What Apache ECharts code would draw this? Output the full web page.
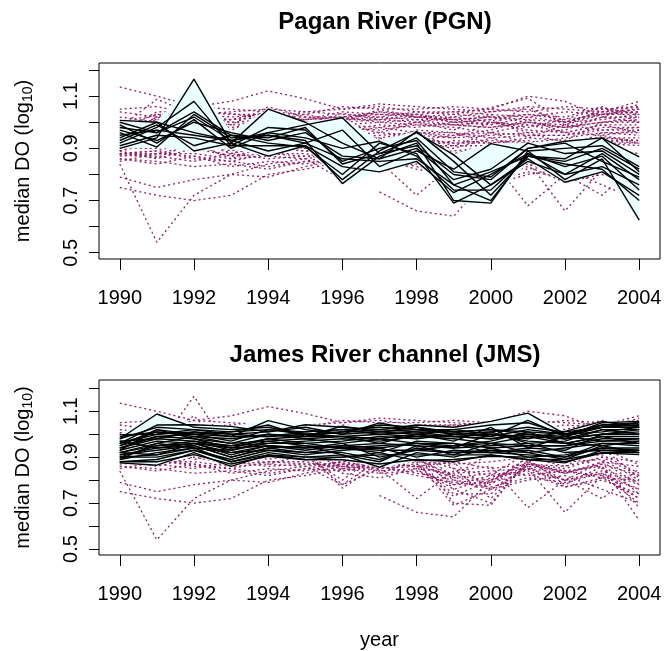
<!DOCTYPE html>
<html>
<head>
<meta charset="utf-8">
<script src="https://cdn.jsdelivr.net/npm/echarts@6/dist/echarts.min.js"></script>
<style>
html,body{margin:0;padding:0;background:#fff}
#main{width:665px;height:651px}
</style>
</head>
<body>
<div id="main"></div>
<script>
// years on the x axis
const years = [1990,1991,1992,1993,1994,1995,1996,1997,1998,1999,2000,2001,2002,2003,2004];
const xTicks = [1990,1992,1994,1996,1998,2000,2002,2004];
const yTicks = [0.5,0.6,0.7,0.8,0.9,1.0,1.1,1.2];
const yLabels = [0.5,0.7,0.9,1.1];

// Pagan River stations (PGN)
const pgn = [
  [1.007,1.000,0.960,0.930,0.960,0.990,1.017,0.880,0.940,0.810,0.790,0.900,0.927,0.940,0.867],
  [0.900,0.940,1.165,0.920,1.050,1.000,0.920,0.860,0.965,0.850,0.720,0.870,0.850,0.900,0.820],
  [0.920,0.980,1.080,0.910,0.980,0.970,0.850,0.900,0.930,0.760,0.700,0.880,0.800,0.880,0.780],
  [0.960,0.905,1.030,0.940,0.950,0.930,0.765,0.870,0.920,0.700,0.690,0.890,0.780,0.860,0.625],
  [0.980,0.960,1.040,0.950,0.920,0.905,0.800,0.920,0.880,0.690,0.760,0.860,0.770,0.810,0.720],
  [0.940,1.000,0.890,0.920,0.870,0.910,0.830,0.810,0.850,0.730,0.800,0.880,0.830,0.870,0.740],
  [0.970,0.930,1.000,0.960,0.930,0.960,0.870,0.860,0.900,0.780,0.820,0.920,0.880,0.890,0.800],
  [0.950,0.970,0.950,0.930,0.950,0.920,0.970,0.830,0.890,0.820,0.918,0.890,0.900,0.910,0.830],
  [0.910,0.950,0.940,0.910,0.910,0.910,0.780,0.890,0.960,0.875,0.760,0.850,0.800,0.830,0.760],
  [0.990,0.920,1.010,0.900,0.960,0.940,0.900,0.927,0.870,0.740,0.740,0.870,0.860,0.940,0.810],
  [0.930,0.990,0.910,0.950,0.940,0.980,0.840,0.880,0.910,0.800,0.780,0.900,0.920,0.850,0.790],
  [1.000,0.960,1.020,0.930,0.890,0.920,0.860,0.850,0.860,0.760,0.810,0.870,0.840,0.820,0.700]
];

// James River channel stations (JMS)
const jms = [
  [0.980,1.088,1.030,1.020,1.030,1.000,1.010,1.040,1.030,1.010,1.020,1.000,0.990,1.050,1.056],
  [0.960,1.040,1.041,1.034,1.010,1.041,1.030,1.020,1.040,1.030,1.056,1.092,1.000,1.040,1.050],
  [0.950,1.020,1.000,0.990,1.059,1.020,1.000,1.049,1.020,1.000,0.990,1.060,0.990,1.030,1.040],
  [0.998,1.000,1.020,1.010,1.040,0.990,1.035,1.010,1.000,1.020,1.000,0.980,1.012,1.056,1.030],
  [0.920,0.960,0.990,0.960,1.000,0.980,0.990,1.000,0.990,0.990,0.980,1.000,0.980,1.000,1.020],
  [0.940,0.990,0.980,0.940,0.980,0.960,0.970,0.990,0.980,1.000,1.010,0.960,0.970,1.020,1.000],
  [0.930,0.970,0.960,0.950,0.960,0.970,0.980,0.970,0.990,0.980,0.960,0.990,0.960,0.990,0.990],
  [0.900,0.950,0.970,0.930,0.970,0.950,0.940,0.950,0.960,0.960,0.940,0.950,0.950,0.980,0.980],
  [0.910,0.930,0.950,0.900,0.940,0.920,0.920,0.890,0.940,0.920,0.930,0.920,0.940,0.960,0.960],
  [0.890,0.920,0.940,0.880,0.920,0.900,0.910,0.856,0.920,0.900,0.940,0.900,0.910,0.940,0.940],
  [0.875,0.865,0.920,0.860,0.910,0.890,0.889,0.870,0.890,0.880,0.910,0.889,0.875,0.930,0.920],
  [0.880,0.880,0.911,0.870,0.904,0.889,0.900,0.920,0.885,0.890,0.904,0.900,0.880,0.918,0.911],
  [0.960,1.010,0.990,0.980,1.000,0.990,1.010,1.020,1.010,1.010,0.990,1.020,1.000,1.010,1.030],
  [0.940,0.980,1.010,1.000,0.990,1.000,0.990,0.960,1.000,0.970,1.030,0.940,0.990,0.970,0.980],
  [0.970,0.940,0.960,0.920,0.950,0.940,0.960,0.900,0.930,0.950,0.970,1.010,0.960,0.950,0.970],
  [0.900,0.900,0.930,0.890,0.930,0.910,0.930,0.940,0.900,0.930,0.920,0.930,0.900,0.960,0.950],
  [0.920,0.910,0.960,0.910,0.950,0.930,0.950,0.960,0.950,0.940,0.950,0.960,0.920,0.930,0.930],
  [0.950,0.990,1.000,0.970,1.020,1.010,1.020,1.030,1.020,1.020,1.040,1.050,1.000,1.040,1.040],
  [0.890,0.960,0.940,0.930,0.960,0.960,0.940,0.920,0.970,0.960,0.920,0.940,0.930,1.000,1.010],
  [0.930,1.020,0.980,0.960,0.970,0.980,0.960,0.980,0.960,0.940,1.000,0.970,0.960,0.990,0.960],
  [0.910,0.940,0.950,0.900,0.940,0.950,0.910,0.880,0.950,0.910,0.960,0.920,0.890,0.950,0.920],
  [0.980,1.030,1.020,1.000,1.010,1.030,1.000,1.010,1.030,1.000,1.010,1.030,1.010,1.030,1.050],
  [0.960,1.000,1.010,0.990,0.990,1.010,1.020,1.000,1.010,0.990,1.000,0.990,0.980,1.020,1.020],
  [0.900,0.910,0.940,0.920,0.930,0.920,0.940,0.930,0.930,0.920,0.920,0.910,0.900,0.940,0.930],
  [0.970,0.980,0.970,0.950,0.980,0.990,0.990,0.980,1.000,0.990,0.980,1.000,0.980,1.000,1.000],
  [0.920,0.950,0.960,0.940,0.950,0.940,0.950,0.940,0.960,0.950,0.960,0.950,0.950,0.970,0.970],
  [0.880,0.890,0.930,0.880,0.910,0.900,0.900,0.910,0.910,0.910,0.910,0.890,0.890,0.920,0.920],
  [0.990,1.010,1.000,1.010,1.020,1.000,1.010,1.010,1.020,1.010,1.020,1.010,1.000,1.030,1.030]
];

// all other stations, shown dotted in both panels
const others = [
  [1.135,1.100,1.060,1.080,1.120,1.090,1.050,1.060,1.040,1.040,1.050,1.100,1.080,1.020,1.070],
  [0.840,0.540,0.720,0.800,0.840,0.860,0.880,0.900,0.880,0.870,0.880,0.900,0.860,0.900,0.880],
  [0.750,0.720,0.700,0.720,0.800,0.820,0.850,0.870,0.860,0.880,0.850,0.870,0.830,0.870,0.820],
  [0.790,0.750,0.780,0.800,0.790,0.830,0.860,0.880,0.900,0.850,0.820,0.840,0.800,0.840,0.780],
  [null,null,null,null,null,null,null,0.733,0.660,0.640,0.800,0.850,0.830,0.880,0.860],
  [0.860,0.840,0.870,0.830,0.850,0.840,0.870,0.850,0.720,0.840,0.860,0.680,0.800,0.720,0.850],
  [1.050,1.060,1.030,1.040,1.050,1.040,1.050,1.070,1.060,1.050,1.040,1.060,1.050,1.040,1.080],
  [1.040,1.020,1.060,1.050,1.040,1.030,1.060,1.050,1.050,1.060,1.050,1.040,1.060,1.050,1.060],
  [0.880,0.870,0.850,0.880,0.860,0.870,0.860,0.840,0.850,0.830,0.840,0.850,0.660,0.820,0.760],
  [0.870,0.880,0.880,0.860,0.870,0.860,0.780,0.850,0.870,0.810,0.830,0.820,0.840,0.810,0.800],
  [0.890,0.860,0.900,0.870,0.880,0.880,0.850,0.830,0.840,0.780,0.790,0.830,0.770,0.800,0.740],
  [0.850,0.880,0.870,0.850,0.830,0.850,0.840,0.860,0.830,0.800,0.760,0.800,0.820,0.760,0.700],
  [1.020,1.000,1.040,1.030,1.030,1.010,1.040,1.030,1.030,1.040,1.030,1.020,1.040,1.030,1.040],
  [1.000,1.030,1.020,1.010,1.020,1.020,1.020,1.040,1.020,1.030,1.020,1.030,1.020,1.060,1.000],
  [0.860,0.850,0.830,0.840,0.820,0.850,0.880,0.860,0.820,0.790,0.770,0.810,0.790,0.830,0.720],
  [0.880,0.890,0.860,0.850,0.880,0.870,0.870,0.880,0.860,0.820,0.800,0.860,0.840,0.860,0.680]
];

const FONT = 'Liberation Sans, Arial, sans-serif';
const PURPLE = '#8c2066';
const FILL = '#ebffff';

function pts(vals) {
  return vals.map((v, i) => [years[i], v]);
}

function dotted(vals, k) {
  return {
    type: 'line', xAxisIndex: k, yAxisIndex: k, data: pts(vals),
    symbol: 'none', silent: true, z: 2, connectNulls: false,
    lineStyle: { color: PURPLE, width: 1.3, type: [2, 3] }
  };
}

function solid(vals, k) {
  return {
    type: 'line', xAxisIndex: k, yAxisIndex: k, data: pts(vals),
    symbol: 'none', silent: true, z: 4,
    lineStyle: { color: '#000', width: 1.4 }
  };
}

// shaded band between the lowest and highest highlighted station, one quad per year step
function envelope(group, k) {
  const lo = years.map((y, i) => Math.min(...group.map(s => s[i])));
  const hi = years.map((y, i) => Math.max(...group.map(s => s[i])));
  const segs = [];
  for (let i = 0; i < years.length - 1; i++) {
    segs.push([years[i], lo[i], hi[i], years[i + 1], lo[i + 1], hi[i + 1]]);
  }
  return {
    type: 'custom', xAxisIndex: k, yAxisIndex: k, z: 3, silent: true,
    data: segs,
    encode: { x: [0, 3], y: [1, 2, 4, 5] },
    renderItem: (params, api) => {
      const a = api.coord([api.value(0), api.value(1)]);
      const b = api.coord([api.value(0), api.value(2)]);
      const c = api.coord([api.value(3), api.value(5)]);
      const d = api.coord([api.value(3), api.value(4)]);
      return {
        type: 'polygon',
        shape: { points: [a, b, c, d] },
        style: { fill: FILL, stroke: FILL, lineWidth: 1 }
      };
    }
  };
}

function xAxis(k) {
  const ax = {
    gridIndex: k, type: 'value', min: 1989.44, max: 2004.56,
    axisLine: { show: false }, splitLine: { show: false },
    axisTick: { show: true, customValues: xTicks, length: 11, lineStyle: { color: '#000' } },
    axisLabel: { customValues: xTicks, fontSize: 20, color: '#000', margin: 29,
      fontFamily: FONT, formatter: v => String(v) }
  };
  if (k === 1) {
    ax.name = 'year';
    ax.nameLocation = 'middle';
    ax.nameGap = 75;
    ax.nameTextStyle = { fontSize: 20, color: '#000', fontFamily: FONT };
  }
  return ax;
}

function yAxis(k, min, max) {
  return {
    gridIndex: k, type: 'value', min: min, max: max,
    axisLine: { show: false }, splitLine: { show: false },
    axisTick: { show: true, customValues: yTicks, length: 10, lineStyle: { color: '#000' } },
    axisLabel: { customValues: yLabels, rotate: 90, fontSize: 20, color: '#000', margin: 18,
      fontFamily: FONT, formatter: v => v.toFixed(1) },
    name: 'median DO (log{sub|10})', nameLocation: 'middle', nameRotate: 90, nameGap: 64,
    nameTextStyle: { fontSize: 20, color: '#000', fontFamily: FONT,
      rich: { sub: { fontSize: 14, color: '#000', fontFamily: FONT, padding: [10, 0, 0, 0] } } }
  };
}

const series = [];
others.forEach(s => series.push(dotted(s, 0)));
jms.forEach(s => series.push(dotted(s, 0)));
series.push(envelope(pgn, 0));
pgn.forEach(s => series.push(solid(s, 0)));

others.forEach(s => series.push(dotted(s, 1)));
pgn.forEach(s => series.push(dotted(s, 1)));
series.push(envelope(jms, 1));
jms.forEach(s => series.push(solid(s, 1)));

const chart = echarts.init(document.getElementById('main'));
chart.setOption({
  animation: false,
  backgroundColor: '#fff',
  title: [
    { text: 'Pagan River (PGN)', left: 380, top: 5, textAlign: 'center',
      textStyle: { fontSize: 24, fontWeight: 'bold', color: '#000', fontFamily: FONT } },
    { text: 'James River channel (JMS)', left: 380, top: 338, textAlign: 'center',
      textStyle: { fontSize: 24, fontWeight: 'bold', color: '#000', fontFamily: FONT } }
  ],
  grid: [
    { left: 99, top: 63, width: 561, height: 196, show: true, borderColor: '#000', borderWidth: 1 },
    { left: 99, top: 380, width: 561, height: 175, show: true, borderColor: '#000', borderWidth: 1 }
  ],
  xAxis: [xAxis(0), xAxis(1)],
  yAxis: [yAxis(0, 0.476, 1.227), yAxis(1, 0.474, 1.236)],
  series: series
});
</script>
</body>
</html>
